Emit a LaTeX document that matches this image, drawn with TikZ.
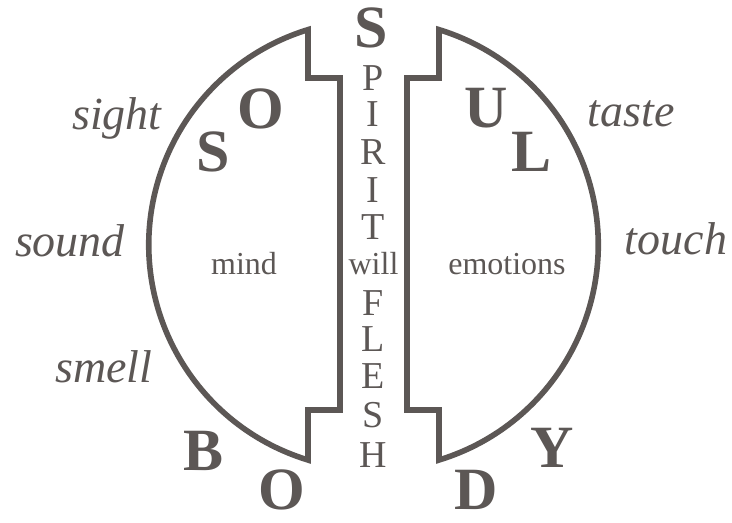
\documentclass[tikz,border=0pt]{standalone}
\usepackage{fontspec}
\usepackage{xcolor}
\setmainfont{Liberation Serif}
\definecolor{ink}{RGB}{92,87,85}

\begin{document}
\begin{tikzpicture}[x=0.5pt,y=-0.5pt,line join=miter,
  half/.style={draw=ink,line width=2.8pt},
  bigletter/.style={text=ink,inner sep=0pt,font=\fontsize{30}{30}\selectfont\bfseries},
  spineletter/.style={text=ink,inner sep=0pt,font=\fontsize{19}{19}\selectfont},
  faculty/.style={text=ink,inner sep=0pt,anchor=base,font=\fontsize{16}{16}\selectfont},
  sense/.style={text=ink,inner sep=0pt,anchor=base,font=\fontsize{23}{23}\selectfont\itshape}]
\useasboundingbox (0,0) rectangle (732,523);
% the two halves
\draw[half] (308,30)--(308,78)--(340,78)--(340,410)--(308,410)--(308,460)
  arc[start angle=107,end angle=253,radius=225]--cycle;
\draw[half] (439,30)--(439,78)--(407,78)--(407,410)--(439,410)--(439,460)
  arc[start angle=73,end angle=-73,radius=225]--cycle;
% SOUL and BODY
\node[bigletter] (topS) at (371,28) {S};
\node[bigletter] (soulS) at (213,152) {S};
\node[bigletter] (soulO) at (261,109) {O};
\node[bigletter] (soulU) at (486,108) {U};
\node[bigletter] (soulL) at (531,152) {L};
\node[bigletter] (bodyB) at (204,451) {B};
\node[bigletter] (bodyO) at (282,490) {O};
\node[bigletter] (bodyD) at (476,490) {D};
\node[bigletter] (bodyY) at (552,448) {Y};
% spirit / flesh down the middle
\node[spineletter] (spiritP) at (373,78) {P};
\node[spineletter] (spiritIa) at (373,114) {I};
\node[spineletter] (spiritR) at (373,152) {R};
\node[spineletter] (spiritIb) at (373,190) {I};
\node[spineletter] (spiritT) at (373,227) {T};
\node[spineletter] (fleshF) at (373,303) {F};
\node[spineletter] (fleshL) at (373,339) {L};
\node[spineletter] (fleshE) at (373,376) {E};
\node[spineletter] (fleshS) at (373,415) {S};
\node[spineletter] (fleshH) at (373,455) {H};
% faculties
\node[faculty] (mind) at (244,275) {mind};
\node[faculty] (will) at (373.5,275) {will};
\node[faculty] (emotions) at (507,275) {emotions};
% senses
\node[sense] (sight) at (117,130) {sight};
\node[sense] (sound) at (70,257) {sound};
\node[sense] (smell) at (104,382) {smell};
\node[sense] (taste) at (631,127) {taste};
\node[sense] (touch) at (676,255) {touch};
\end{tikzpicture}
\end{document}
